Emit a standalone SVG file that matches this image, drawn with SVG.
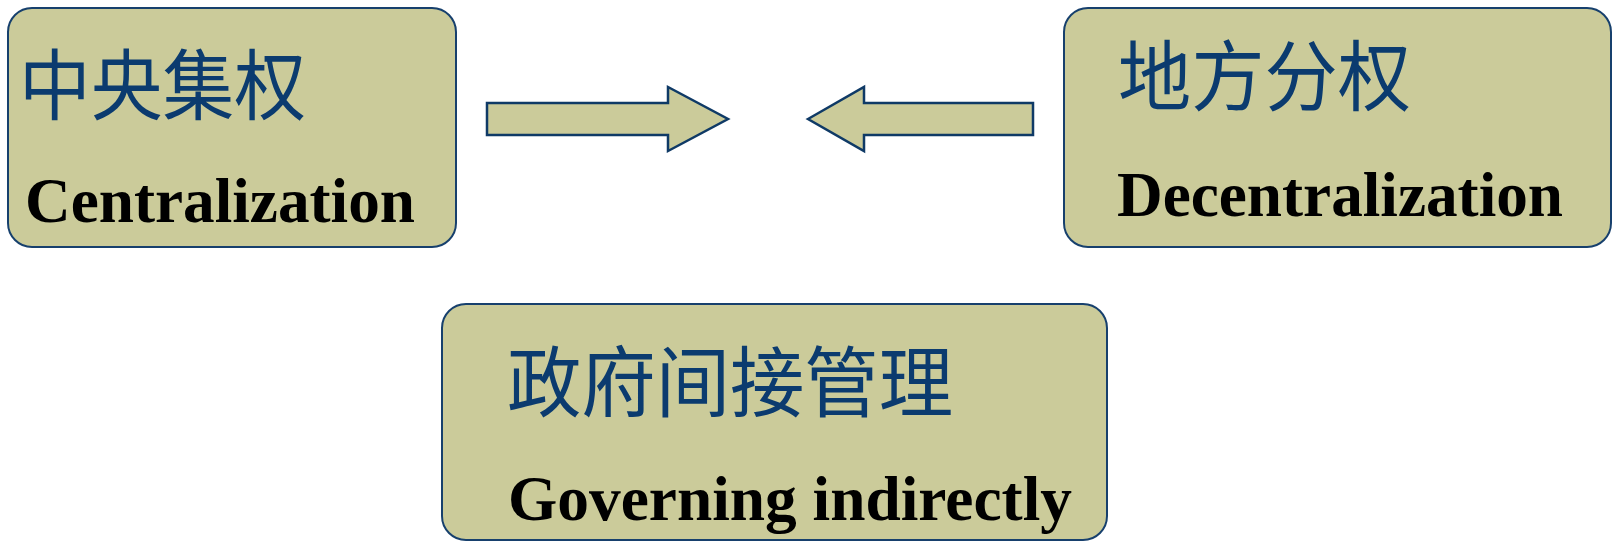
<svg xmlns="http://www.w3.org/2000/svg" width="1613" height="541" viewBox="0 0 1613 541">
<style>
.box{fill:#CBCB9A;stroke:#17406D;stroke-width:2}
.arrow{fill:#CBCB9A;stroke:#0F3A66;stroke-width:2.5;stroke-linejoin:miter}
.cn{font-family:"Noto Sans CJK SC","Noto Sans CJK JP",sans-serif;font-size:77px;fill:#0B3B6F}
.en{font-family:"Liberation Serif","Times New Roman",serif;font-weight:bold;font-size:64px;fill:#000}
</style>
<rect width="1613" height="541" fill="#fff"/>
<g id="connectors">
<polygon class="arrow" points="487,103 668,103 668,87 728,119 668,151 668,135 487,135"/>
<polygon class="arrow" points="808,119 864,87 864,103 1033,103 1033,135 864,135 864,151"/>
</g>
<g id="centralization">
<rect class="box" x="8" y="8" width="448" height="239" rx="24" ry="24"/>
<text class="cn" x="19" y="114" textLength="287" lengthAdjust="spacingAndGlyphs">中央集权</text>
<text class="en" x="25" y="222" textLength="390" lengthAdjust="spacingAndGlyphs">Centralization</text>
</g>
<g id="decentralization">
<rect class="box" x="1064" y="8" width="547" height="239" rx="24" ry="24"/>
<text class="cn" x="1118" y="105" textLength="293" lengthAdjust="spacingAndGlyphs">地方分权</text>
<text class="en" x="1117" y="216" font-size="62" textLength="446" lengthAdjust="spacingAndGlyphs">Decentralization</text>
</g>
<g id="governing">
<rect class="box" x="442" y="304" width="665" height="236" rx="24" ry="24"/>
<text class="cn" x="507" y="411" textLength="446" lengthAdjust="spacingAndGlyphs">政府间接管理</text>
<text class="en" x="508" y="520" textLength="564" lengthAdjust="spacingAndGlyphs">Governing indirectly</text>
</g>
</svg>
